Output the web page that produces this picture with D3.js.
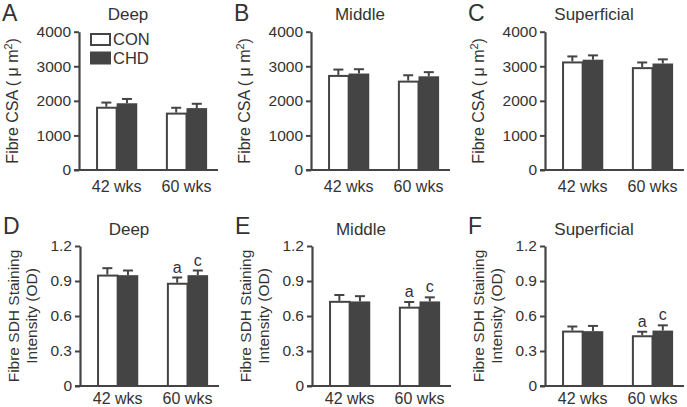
<!DOCTYPE html>
<html>
<head>
<meta charset="utf-8">
<script src="https://cdn.jsdelivr.net/npm/d3@7"></script>
<style>
  body { margin: 0; background: #fff; }
  svg { display: block; font-family: "Liberation Sans", Arial, sans-serif; }
</style>
</head>
<body>
<svg id="chart" width="687" height="407"></svg>
<script>
// ---- data ----
const categories = ["42 wks", "60 wks"];
const groups = ["CON", "CHD"];
const panelLetters = ["A", "B", "C", "D", "E", "F"];
const panelTitles = ["Deep", "Middle", "Superficial", "Deep", "Middle", "Superficial"];

// Fibre CSA (μm2)
const csaCON = [[1830, 1660], [2750, 2585], [3140, 2975]];
const csaCHD = [[1930, 1790], [2790, 2710], [3190, 3080]];
const csaErrCON = [[120, 140], [155, 155], [145, 135]];
const csaErrCHD = [[125, 125], [125, 120], [125, 120]];
const csaTicks = [0, 1000, 2000, 3000, 4000];

// Fibre SDH staining intensity (OD)
const sdhCON = [[0.955, 0.885], [0.73, 0.68], [0.475, 0.435]];
const sdhCHD = [[0.95, 0.95], [0.725, 0.725], [0.47, 0.475]];
const sdhErrCON = [[0.055, 0.045], [0.05, 0.04], [0.035, 0.03]];
const sdhErrCHD = [[0.04, 0.04], [0.045, 0.035], [0.045, 0.045]];
const sdhTicks = [0, 0.3, 0.6, 0.9, 1.2];
const sdhTickLabels = ["0", "0.3", "0.6", "0.9", "1.2"];
const sdhMarks = [["", "a"], ["", "c"]]; // per group (CON, CHD), per category

const svg = d3.select("#chart");
const ink = "#444";
const txt = "#333";

const axisXs = [[79, 311, 545], [80, 312, 545]];
const rows = [
  { y0: 170, y1: 31.7, max: 4000, ticks: csaTicks, labels: csaTicks.map(String),
    con: csaCON, chd: csaCHD, econ: csaErrCON, echd: csaErrCHD, titleY: 14, letterY: 13, xlabY: 186 },
  { y0: 386, y1: 246, max: 1.2, ticks: sdhTicks, labels: sdhTickLabels,
    con: sdhCON, chd: sdhCHD, econ: sdhErrCON, echd: sdhErrCHD, titleY: 229, letterY: 226, xlabY: 398 }
];

rows.forEach((row, r) => {
  for (let p = 0; p < 3; p++) {
    const ax = axisXs[r][p];
    const g = svg.append("g");
    const y = d3.scaleLinear().domain([0, row.max]).range([row.y0, row.y1]);
    const x = d3.scaleBand().domain(categories).range([ax, ax + 139])
      .paddingInner(0.41).paddingOuter(0.2).align(0.61);
    const xs = d3.scaleBand().domain(groups).range([0, x.bandwidth()]);

    // panel letter
    g.append("text").attr("x", ax - 77).attr("y", row.letterY).attr("dy", "0.36em")
      .attr("font-size", 23).attr("fill", txt).text(panelLetters[r * 3 + p]);
    // title
    g.append("text").attr("x", ax + 49).attr("y", row.titleY).attr("dy", "0.36em")
      .attr("text-anchor", "middle").attr("font-size", 17).attr("fill", txt)
      .text(panelTitles[r * 3 + p]);

    // bars
    const data = [];
    categories.forEach((c, i) => {
      data.push({ c, g: "CON", v: row.con[p][i], e: row.econ[p][i], mark: r === 1 ? sdhMarks[0][i] : "" });
      data.push({ c, g: "CHD", v: row.chd[p][i], e: row.echd[p][i], mark: r === 1 ? sdhMarks[1][i] : "" });
    });

    // error bars (drawn first, upward only)
    data.forEach(d => {
      const cx = x(d.c) + xs(d.g) + xs.bandwidth() / 2;
      g.append("line").attr("x1", cx).attr("x2", cx)
        .attr("y1", y(d.v)).attr("y2", y(d.v + d.e))
        .attr("stroke", ink).attr("stroke-width", 2);
      g.append("line").attr("x1", cx - 5).attr("x2", cx + 5)
        .attr("y1", y(d.v + d.e)).attr("y2", y(d.v + d.e))
        .attr("stroke", ink).attr("stroke-width", 2);
      if (d.mark) {
        g.append("text").attr("x", cx).attr("y", y(d.v + d.e) - 5)
          .attr("text-anchor", "middle").attr("font-size", 16).attr("fill", txt)
          .text(d.mark);
      }
    });
    data.forEach(d => {
      const bx = x(d.c) + xs(d.g);
      if (d.g === "CON") {
        g.append("rect").attr("x", bx + 1).attr("y", y(d.v) + 1)
          .attr("width", xs.bandwidth() - 1).attr("height", y(0) - y(d.v) - 1)
          .attr("fill", "#fff").attr("stroke", ink).attr("stroke-width", 2);
      } else {
        g.append("rect").attr("x", bx).attr("y", y(d.v))
          .attr("width", xs.bandwidth()).attr("height", y(0) - y(d.v))
          .attr("fill", ink);
      }
    });

    // y axis
    const yAxis = d3.axisLeft(y).tickValues(row.ticks)
      .tickFormat((t, i) => row.labels[i]).tickSize(5).tickSizeOuter(0).tickPadding(3);
    const ya = g.append("g").attr("transform", `translate(${ax},0)`).call(yAxis);
    ya.select(".domain").attr("stroke", ink).attr("stroke-width", 2.2);
    ya.selectAll(".tick line").attr("stroke", ink).attr("stroke-width", 2);
    ya.selectAll(".tick text").attr("font-size", 15.5).attr("fill", txt)
      .attr("font-family", "Liberation Sans, Arial, sans-serif");

    // x axis line
    g.append("line").attr("x1", ax - 5).attr("x2", ax + 139)
      .attr("y1", y(0)).attr("y2", y(0)).attr("stroke", ink).attr("stroke-width", 2.2);
    // x labels
    categories.forEach(c => {
      g.append("text").attr("x", x(c) + x.bandwidth() / 2).attr("y", row.xlabY).attr("dy", "0.36em")
        .attr("text-anchor", "middle").attr("font-size", 16).attr("fill", txt).text(c);
    });

    // y label
    const ly = (row.y0 + row.y1) / 2;
    if (r === 0) {
      const t = g.append("text").attr("transform", `translate(${ax - 61},${ly}) rotate(-90)`)
        .attr("text-anchor", "middle").attr("font-size", 16).attr("fill", txt);
      t.append("tspan").text("Fibre CSA ( μ m");
      t.append("tspan").attr("font-size", 11).attr("dy", -6).text("2");
      t.append("tspan").attr("dy", 6).text(")");
    } else {
      g.append("text").attr("transform", `translate(${ax - 61},${ly}) rotate(-90)`)
        .attr("text-anchor", "middle").attr("font-size", 15.5).attr("fill", txt)
        .text("Fibre SDH Staining");
      g.append("text").attr("transform", `translate(${ax - 43},${ly}) rotate(-90)`)
        .attr("text-anchor", "middle").attr("font-size", 15.5).attr("fill", txt)
        .text("Intensity (OD)");
    }

    // legend (panel A only)
    if (r === 0 && p === 0) {
      const lg = svg.append("g");
      groups.forEach((gn, i) => {
        const yy = 34 + i * 18.5;
        if (gn === "CON") {
          lg.append("rect").attr("x", ax + 12).attr("y", yy).attr("width", 19).attr("height", 11)
            .attr("fill", "#fff").attr("stroke", ink).attr("stroke-width", 2);
        } else {
          lg.append("rect").attr("x", ax + 11).attr("y", yy - 1).attr("width", 21).attr("height", 13)
            .attr("fill", ink);
        }
        lg.append("text").attr("x", ax + 34).attr("y", yy + 5.5).attr("dy", "0.36em")
          .attr("font-size", 16.5).attr("fill", txt).text(gn);
      });
    }
  }
});
</script>
</body>
</html>
